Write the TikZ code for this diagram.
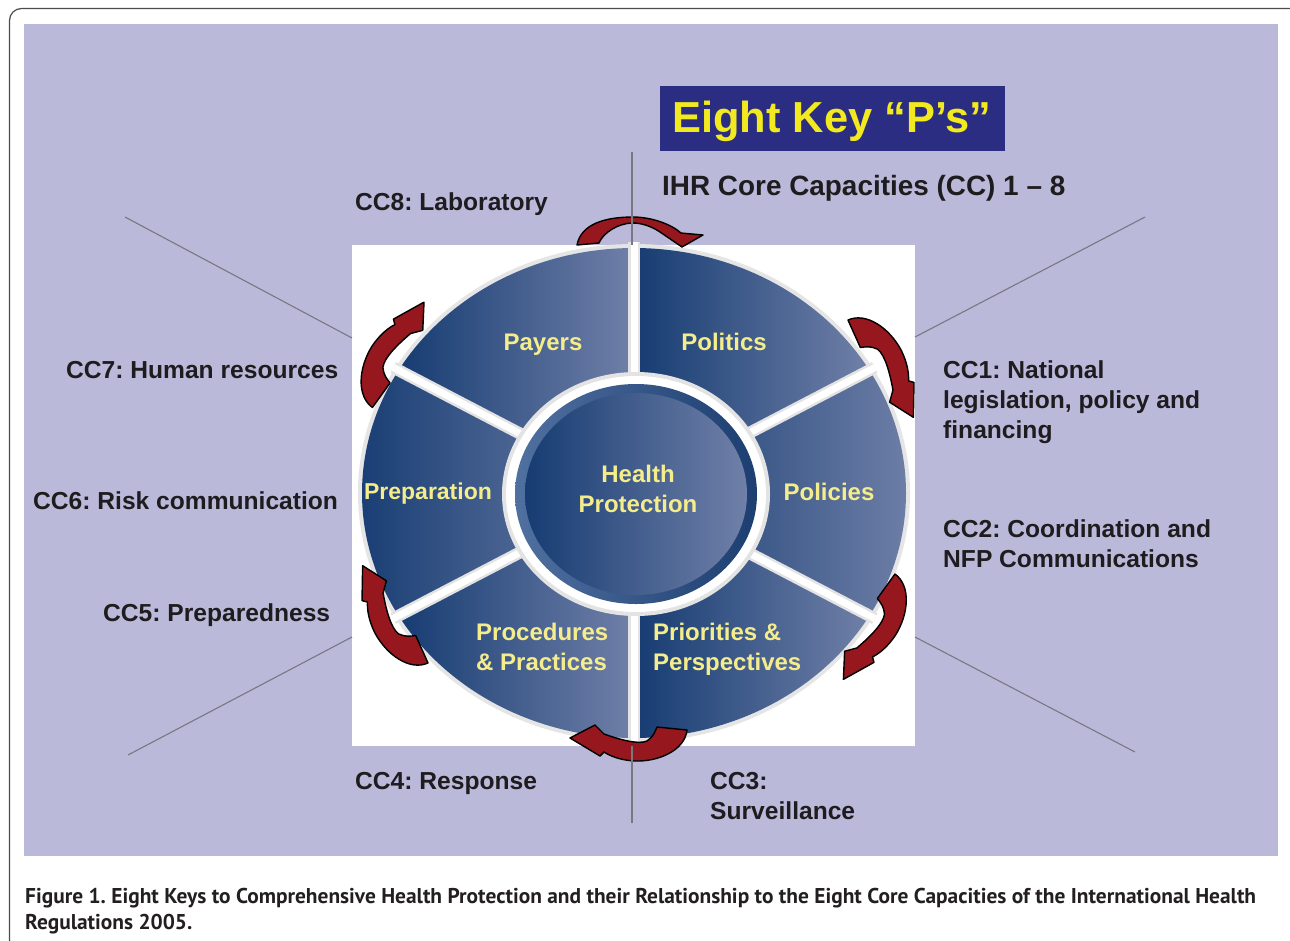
\documentclass[tikz,border=0pt]{standalone}
\usepackage{fontspec}
\setmainfont{Liberation Sans}
\newfontfamily\capfont{PT Sans}
\frenchspacing
\definecolor{bgpurple}{RGB}{187,185,218}
\definecolor{titleblue}{RGB}{43,45,131}
\definecolor{titleyellow}{RGB}{242,234,30}
\definecolor{segdark}{RGB}{22,60,114}
\definecolor{seglight}{RGB}{112,128,168}
\definecolor{labyellow}{RGB}{245,237,140}
\definecolor{arrowred}{RGB}{150,24,30}
\definecolor{linegray}{RGB}{120,120,128}
\definecolor{txt}{RGB}{30,28,30}
\definecolor{captext}{RGB}{35,31,32}
\definecolor{rimlight}{RGB}{80,112,160}
\definecolor{rimdark}{RGB}{28,62,112}
\tikzset{
  lab/.style={inner sep=0pt, anchor=base west, text=txt, font=\fontsize{24.6}{29}\selectfont\bfseries},
  seglab/.style={inner sep=0pt, anchor=base, text=labyellow, font=\fontsize{24}{29}\selectfont\bfseries},
  seglabw/.style={seglab, anchor=base west},
  caplab/.style={inner sep=0pt, anchor=base west, text=captext, font=\capfont\fontsize{21.4}{26}\selectfont\bfseries},
  guide/.style={draw=linegray, line width=1.1pt},
  arrowsty/.style={fill=arrowred, draw=black, line width=1.4pt, line join=round},
  arrA/.pic={\filldraw[arrowsty] (-56,3) .. controls (-52,24) and (-28,31) .. (0,31)
      .. controls (18,31) and (38,24) .. (48,15) -- (70,13) -- (49,1) -- (27,16)
      .. controls (18,22) and (8,25) .. (0,25) .. controls (-15,25) and (-30,15) .. (-34,5) -- cycle;},
  arrB/.pic={\filldraw[arrowsty] (-45,4) .. controls (-43,24) and (-17,36) .. (8,35)
      .. controls (22,34) and (32,30) .. (38,26) -- (42,30) -- (72,12) -- (47,-1) -- (38,8)
      .. controls (24,13) and (4,19) .. (-5,15) .. controls (-11,11) and (-13,6) .. (-15,1) -- cycle;}
}
\begin{document}
\begin{tikzpicture}[x=1pt,y=-1pt]
\useasboundingbox (0,0) rectangle (1290,940);
% frame
\begin{scope}
\clip (0,0) rectangle (1290,940);
\draw[draw=gray!60!black, line width=1.2pt, rounded corners=12pt] (9.5,8.5) rectangle (1302,952);
\end{scope}
% background
\fill[bgpurple] (24,24) rectangle (1278,856);
% white square
\fill[white] (352,245) rectangle (915,746);
% wheel
\coordinate (C) at (634,493);
\fill[gray!20] (C) ellipse[x radius=276, y radius=249];
\foreach \s in {-90,-30,30,90,150,210}{
  \shade[left color=segdark, right color=seglight] (C) -- ++(\s:272 and 245)
     arc[start angle=\s, end angle=\s+60, x radius=272, y radius=245] -- cycle;
}
\foreach \s in {-90,-30,30,90,150,210}{
  \draw[gray!22, line width=12pt] (C) -- ++(\s:278 and 251);
  \draw[white, line width=7pt] (C) -- ++(\s:278 and 251);
}
\coordinate (D) at (636,494);
\fill[gray!22] (D) ellipse[x radius=134, y radius=122];
\fill[white] (D) ellipse[x radius=130, y radius=118];
\shade[left color=rimlight, right color=rimdark] (D) ellipse[x radius=121, y radius=110];
\shade[left color=segdark, right color=seglight] (D) ellipse[x radius=111, y radius=101];
% arrows
\pic[yscale=-1] at (633,248) {arrA};
\pic[rotate=-60, yscale=-1] at (867,361) {arrB};
\pic[rotate=-120, yscale=-1] at (869,611) {arrB};
\pic[rotate=180, yscale=-1] at (642,726) {arrB};
\pic[rotate=120, yscale=-1] at (409,622) {arrB};
\pic[rotate=60, yscale=-1] at (398.4,370.5) {arrB};
% guide lines
\coordinate (gt1) at (632,152); \coordinate (gt2) at (632,245);
\coordinate (gb1) at (632,746); \coordinate (gb2) at (632,823);
\coordinate (ul1) at (125,217); \coordinate (ul2) at (352,338);
\coordinate (ur1) at (915,337); \coordinate (ur2) at (1145,217);
\coordinate (ll1) at (128,755); \coordinate (ll2) at (352,637);
\coordinate (lr1) at (915,637); \coordinate (lr2) at (1135,752);
\draw[guide] (gt1) -- (gt2);
\draw[guide] (gb1) -- (gb2);
\draw[guide] (ul1) -- (ul2);
\draw[guide] (ur1) -- (ur2);
\draw[guide] (ll1) -- (ll2);
\draw[guide] (lr1) -- (lr2);
% title
\node[fill=titleblue, inner sep=0pt, anchor=north west, minimum width=345pt, minimum height=65pt] (tbox) at (660,86) {};
\node[inner sep=0pt, anchor=base west, text=titleyellow, font=\fontsize{43.4}{48}\selectfont\bfseries] (ttext) at (672,132) {Eight Key “P’s”};
\node[lab, font=\fontsize{27.9}{32}\selectfont\bfseries] (ihr) at (662,195) {IHR Core Capacities (CC) 1 – 8};
% CC labels
\node[lab] (cc8) at (355,210) {CC8: Laboratory};
\node[lab] (cc7) at (66,378) {CC7: Human resources};
\node[lab] (cc6) at (33,509) {CC6: Risk communication};
\node[lab] (cc5) at (103,621) {CC5: Preparedness};
\node[lab] (cc4) at (355,789) {CC4: Response};
\node[lab] (cc3a) at (710,789) {CC3:};
\node[lab] (cc3b) at (710,819) {Surveillance};
\node[lab] (cc1a) at (943,378) {CC1: National};
\node[lab] (cc1b) at (943,408) {legislation, policy and};
\node[lab] (cc1c) at (943,438) {financing};
\node[lab] (cc2a) at (943,537) {CC2: Coordination and};
\node[lab] (cc2b) at (943,567) {NFP Communications};
% segment labels
\node[seglab] (payers) at (543,350) {Payers};
\node[seglab] (politics) at (724,350) {Politics};
\node[seglab] (policies) at (829,500) {Policies};
\node[seglab, font=\fontsize{23}{28}\selectfont\bfseries] (prep) at (428,499) {Preparation};
\node[seglabw] (proc1) at (476,640) {Procedures};
\node[seglabw] (proc2) at (476,670) {\& Practices};
\node[seglabw] (prio1) at (653,640) {Priorities \&};
\node[seglabw] (prio2) at (653,670) {Perspectives};
\node[seglab] (hp1) at (638,482) {Health};
\node[seglab] (hp2) at (638,512) {Protection};
% caption
\node[caplab] (cap1) at (25,903) {Figure 1. Eight Keys to Comprehensive Health Protection and their Relationship to the Eight Core Capacities of the International Health};
\node[caplab] (cap2) at (25,929) {Regulations 2005.};
\end{tikzpicture}
\end{document}
